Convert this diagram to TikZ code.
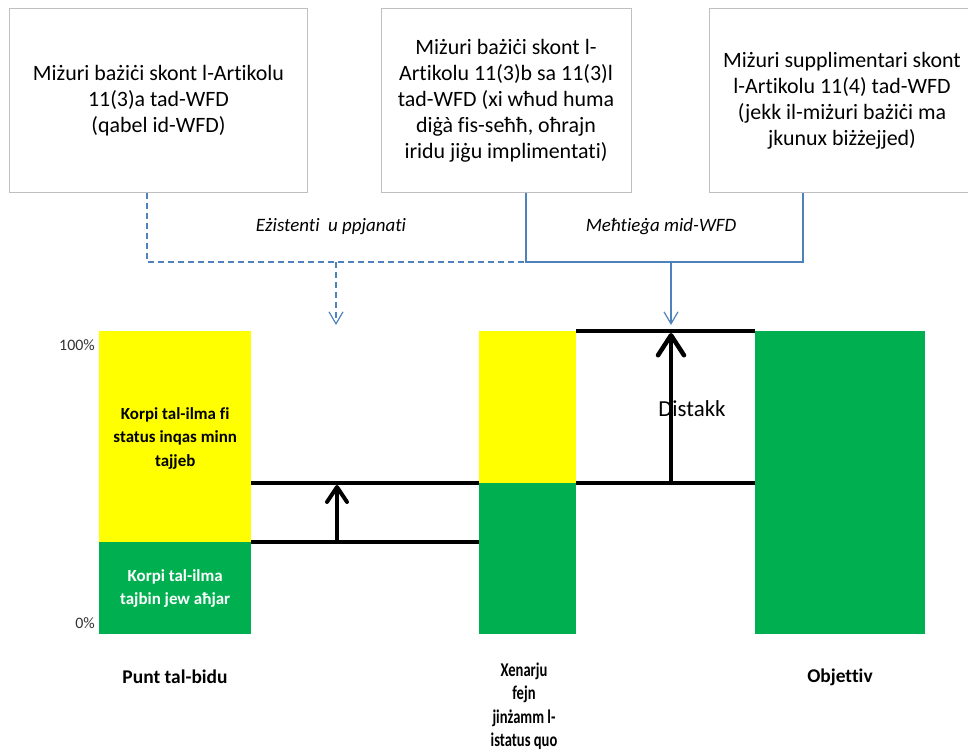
\documentclass[tikz,border=0pt]{standalone}
\usepackage{fontspec}
\setmainfont{Carlito}[Ligatures=NoCommon]
\usepackage{tikz}
\usetikzlibrary{arrows.meta,positioning,calc}
\definecolor{wfdyellow}{HTML}{FFFF00}
\definecolor{wfdgreen}{HTML}{00B050}
\definecolor{wfdblue}{HTML}{4F81BD}
\definecolor{boxgray}{HTML}{BFBFBF}
\newcommand{\squeeze}[1]{\scalebox{0.75}[1]{#1}}
\tikzset{
   measure/.style={draw=boxgray, line width=1bp, fill=white, minimum height=183bp,
                   align=center, font=\fontsize{22}{26}\selectfont},
   bar/.style={inner sep=0pt, anchor=north west, align=center,
               font=\bfseries\fontsize{17}{23.5}\selectfont},
   caption/.style={align=center, font=\bfseries\fontsize{19.5}{23.5}\selectfont},
   route/.style={font=\itshape\fontsize{19}{22}\selectfont},
   percent/.style={anchor=east, inner sep=0pt, text=black!80, font=\fontsize{16}{18}\selectfont}
}
\tikzstyle{link} = [wfdblue, line width=1.2bp]
\tikzstyle{planned} = [link, dash pattern=on 6bp off 4bp]
\tikzstyle{feed} = [-{Straight Barb[length=12bp,width=14bp]}]
\tikzstyle{level} = [line width=4bp]
\tikzstyle{gap} = [line width=4bp, -{Straight Barb[length=15bp,width=20bp,round]}]

\begin{document}
\begin{tikzpicture}[x=1bp,y=-1bp]
  \useasboundingbox (0,0) rectangle (968,751);

  % measures
  \node[measure, minimum width=297bp] (basic) at (158.5,100.5)
      {Miżuri bażiċi skont l-Artikolu\\11(3)a tad-WFD\\(qabel id-WFD)};
  \node[measure, minimum width=250bp] (other) at (506,100.5)
      {Miżuri bażiċi skont l-\\Artikolu 11(3)b sa 11(3)l\\tad-WFD (xi wħud huma\\diġà fis-seħħ, oħrajn\\iridu jiġu implimentati)};
  \node[measure, minimum width=266bp] (extra) at (842,100.5)
      {Miżuri supplimentari skont\\l-Artikolu 11(4) tad-WFD\\(jekk il-miżuri bażiċi ma\\jkunux biżżejjed)};

  \coordinate (dL) at (147,262);
  \coordinate (dR) at (526,262);
  \coordinate (sR) at (803,262);
  \coordinate (dA) at (336,262);
  \coordinate (dB) at (336,325);
  \coordinate (sA) at (671,262);
  \coordinate (sB) at (671,325);

  \draw[planned] (basic.south -| dL) -- (dL) -- (dR);
  \draw[planned, feed] (dA) -- (dB);
  \draw[link] (other.south -| dR) -- (dR) -- (sR) -- (extra.south -| sR);
  \draw[link, feed] (sA) -- (sB);

  \node[route] (existing) at (331,227) {Eżistenti\ \ u ppjanati};
  \node[route] (required) at (661,227) {Meħtieġa mid-WFD};

  % bars
  \node[bar, fill=wfdyellow, minimum width=152bp, minimum height=211bp, text depth=-8bp] (yel1) at (99,331)
      {Korpi tal-ilma fi\\status inqas minn\\tajjeb};
  \node[bar, fill=wfdgreen, text=white, minimum width=152bp, minimum height=92bp] (grn1) at (99,542)
      {Korpi tal-ilma\\tajbin jew aħjar};
  \node[bar, fill=wfdyellow, minimum width=97bp, minimum height=152bp] (yel2) at (479,331) {};
  \node[bar, fill=wfdgreen, minimum width=97bp, minimum height=151bp] (grn2) at (479,483) {};
  \node[bar, fill=wfdgreen, minimum width=170bp, minimum height=303bp] (goal) at (755,331) {};

  \node[percent] (full) at (95,345) {100\%};
  \node[percent] (none) at (95,623) {0\%};

  % levels
  \draw[level] (yel1.east |- grn2.north) -- (grn2.north west);
  \draw[level] (grn1.north east) -- (grn1.north east -| yel2.west);
  \draw[level] (yel2.north east) -- (goal.north west);
  \draw[level] (grn2.north east) -- (grn2.north east -| goal.west);

  \node[font=\fontsize{23}{27}\selectfont] (dist) at (692,409) {Distakk};
  \draw[gap] (337,543) -- (337,485);
  \draw[gap, line width=4.5bp, -{Straight Barb[length=20bp,width=26bp,round]}] (671,483) -- (671,333);

  \node[caption] (start) at (175,677) {Punt tal-bidu};
  \node[caption] (quo) at (524,706)
      {\squeeze{Xenarju}\\\squeeze{fejn}\\\squeeze{jinżamm l-}\\\squeeze{istatus quo}};
  \node[caption] (target) at (840,677) {Objettiv};
\end{tikzpicture}
\end{document}
